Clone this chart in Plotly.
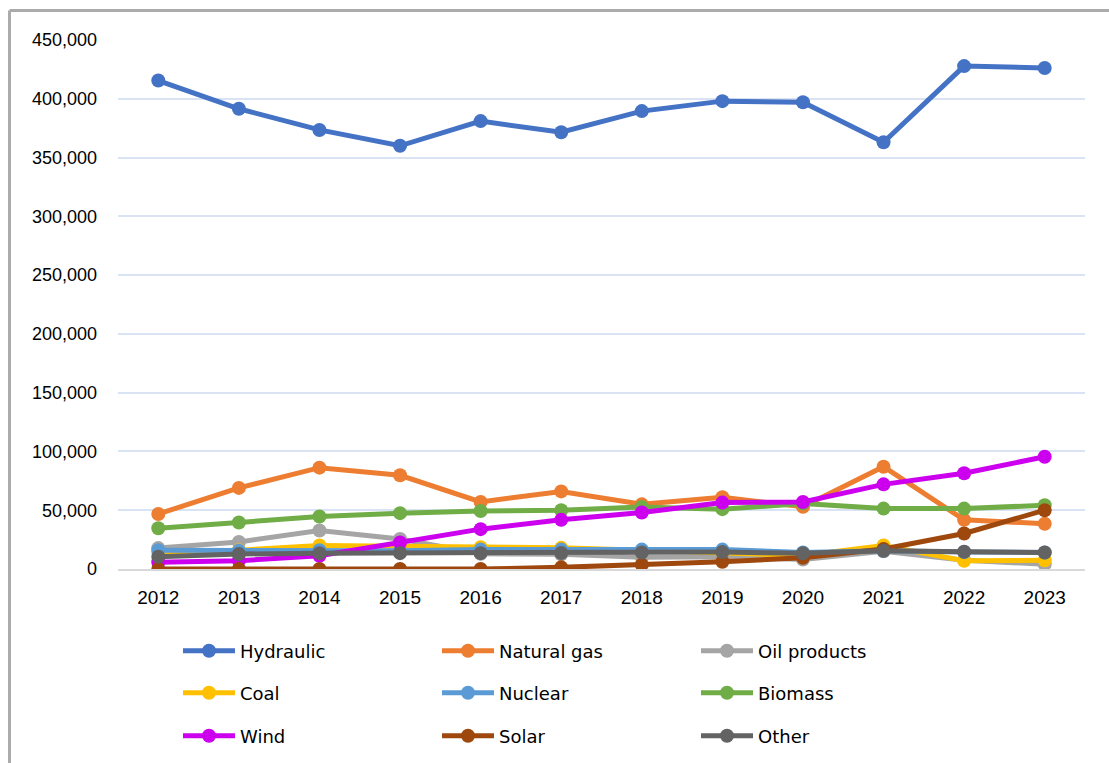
import plotly.graph_objects as go

years = ["2012", "2013", "2014", "2015", "2016", "2017", "2018", "2019", "2020", "2021", "2022", "2023"]

hydraulic = [415500, 391500, 373500, 360000, 381000, 371500, 389500, 398000, 397000, 363000, 427800, 426200]
natural_gas = [46800, 69000, 86200, 79700, 57100, 66000, 55000, 61000, 53000, 87000, 41800, 38500]
oil_products = [17800, 23000, 32800, 25500, 13000, 12500, 10000, 10500, 8000, 15000, 7500, 4000]
coal = [14500, 16000, 20000, 19500, 18500, 18000, 16000, 14000, 11500, 20000, 7000, 7500]
nuclear = [16000, 15500, 16000, 15500, 16500, 16500, 16500, 16500, 14000, 15500, 14500, 14000]
biomass = [34700, 39500, 44600, 47500, 49400, 50000, 52800, 50900, 55700, 51400, 51400, 54200]
wind = [5700, 7000, 11300, 22600, 33900, 41800, 48000, 56500, 57000, 72000, 81400, 95500]
solar = [0, 0, 0, 0, 0, 1400, 3700, 6200, 9500, 17000, 30200, 50000]
other = [10500, 12700, 13500, 13500, 13500, 13600, 14000, 14500, 13300, 15500, 14700, 14000]

y_ticks = [0, 50000, 100000, 150000, 200000, 250000, 300000, 350000, 400000, 450000]
y_tick_text = ["0", "50,000", "100,000", "150,000", "200,000", "250,000", "300,000", "350,000", "400,000", "450,000"]

series = [
    ("Hydraulic", hydraulic, "#4472C4", "legend"),
    ("Natural gas", natural_gas, "#ED7D31", "legend"),
    ("Oil products", oil_products, "#A5A5A5", "legend"),
    ("Coal", coal, "#FFC000", "legend2"),
    ("Nuclear", nuclear, "#5B9BD5", "legend2"),
    ("Biomass", biomass, "#70AD47", "legend2"),
    ("Wind", wind, "#CC00EE", "legend3"),
    ("Solar", solar, "#9E480E", "legend3"),
    ("Other", other, "#636363", "legend3"),
]

fig = go.Figure()
for name, values, color, leg in series:
    fig.add_trace(go.Scatter(
        x=years, y=values, name=name, mode="lines+markers",
        line=dict(color=color, width=5),
        marker=dict(color=color, size=14),
        legend=leg,
    ))

W, H = 1109, 763
ml, mr, mt, mb = 118, 24, 40, 194
pw, ph = W - ml - mr, H - mt - mb


def px_x(p):
    return (p - ml) / pw


def px_y(p):
    return (H - mb - p) / ph


legend_style = dict(
    orientation="h", xanchor="left", yanchor="middle",
    font=dict(family="DejaVu Sans", size=18, color="#000000"),
    entrywidth=192, entrywidthmode="pixels", itemwidth=52,
    bgcolor="rgba(0,0,0,0)",
)

fig.update_layout(
    width=W, height=H,
    margin=dict(l=ml, r=mr, t=mt, b=mb, autoexpand=False),
    paper_bgcolor="white", plot_bgcolor="white",
    font=dict(family="Liberation Sans", size=18, color="#000000"),
    xaxis=dict(
        type="category", range=[-0.5, 11.5], showgrid=False,
        showline=True, linecolor="#D9D9D9", linewidth=2,
        ticks="", ticklabelstandoff=10,
        tickfont=dict(family="Liberation Sans", size=19),
    ),
    yaxis=dict(
        range=[0, 450000], tickvals=y_ticks, ticktext=y_tick_text,
        showgrid=True, gridcolor="#DAE3F3", gridwidth=2,
        zeroline=False, showline=False, ticks="", ticklabelstandoff=20,
        tickfont=dict(family="Liberation Sans", size=18),
    ),
    legend=dict(x=px_x(178), y=px_y(651), **legend_style),
    legend2=dict(x=px_x(178), y=px_y(693), **legend_style),
    legend3=dict(x=px_x(178), y=px_y(736), **legend_style),
    showlegend=True,
    shapes=[
        dict(type="line", xref="paper", yref="paper",
             x0=px_x(9.5), x1=px_x(1120), y0=px_y(10.5), y1=px_y(10.5),
             line=dict(color="#ABABAB", width=3)),
        dict(type="line", xref="paper", yref="paper",
             x0=px_x(9.5), x1=px_x(9.5), y0=px_y(10.5), y1=px_y(780),
             line=dict(color="#ABABAB", width=3)),
    ],
)

fig.write_html("out.html")
